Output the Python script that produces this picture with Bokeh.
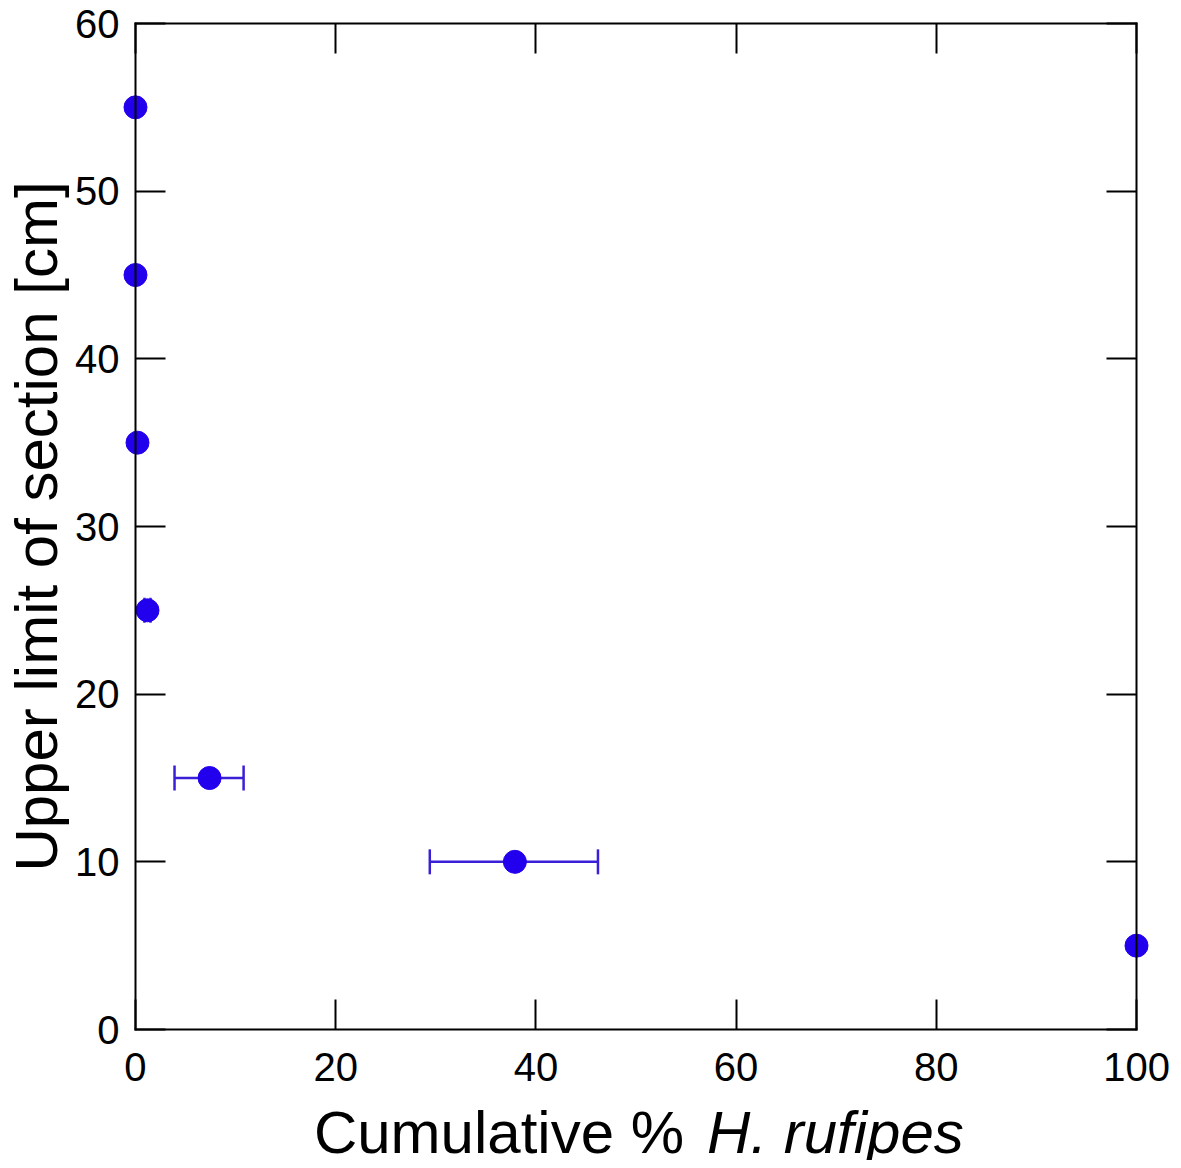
from bokeh.plotting import figure
from bokeh.layouts import column
from bokeh.models import Range1d, LinearAxis, Label, Whisker, ColumnDataSource, TeeHead, FixedTicker
from bokeh.embed import file_html
from bokeh.resources import INLINE

# ---- data ----
depth_cm = [55, 45, 35, 25, 15, 10, 5]
cum_pct = [0.0, 0.0, 0.2, 1.2, 7.4, 37.9, 100.0]
err_low = [0.0, 0.0, 0.2, 0.9, 3.9, 29.4, 100.0]
err_high = [0.0, 0.0, 0.2, 1.5, 10.8, 46.2, 100.0]
x_ticks = [0, 20, 40, 60, 80, 100]
y_ticks = [0, 10, 20, 30, 40, 50, 60]
x_label_a = "Cumulative %"
x_label_b = "H. rufipes"
y_label = "Upper limit of section [cm]"

X0, X1 = 0, 100
Y0, Y1 = 0, 60

# ---- styling ----
FONT = "Liberation Sans"
MARK = "#2200ee"
ERRC = "#3a1fd8"
PAD_PX = 13
BOX_W, BOX_H = 1002, 1006
BOX_LEFT, BOX_TOP = 134, 23
TOTAL_W = 1175
MAIN_H = 1099
LABEL_H = 61
pad_x = PAD_PX * (X1 - X0) / BOX_W
pad_y = PAD_PX * (Y1 - Y0) / BOX_H

b_left = BOX_LEFT - PAD_PX
b_top = BOX_TOP - PAD_PX
b_right = TOTAL_W - (BOX_LEFT + BOX_W + PAD_PX)
b_bottom = MAIN_H - (BOX_TOP + BOX_H + PAD_PX)

xr = Range1d(X0 - pad_x, X1 + pad_x)
yr = Range1d(Y0 - pad_y, Y1 + pad_y)

p = figure(width=TOTAL_W, height=MAIN_H, x_range=xr, y_range=yr, title=None,
           output_backend="svg", toolbar_location=None,
           x_axis_location=None, y_axis_location=None,
           min_border_left=b_left, min_border_right=b_right,
           min_border_top=b_top, min_border_bottom=b_bottom)
p.outline_line_color = None
p.grid.visible = False
p.background_fill_color = "white"
p.border_fill_color = "white"


def label_axis(ticks, standoff, title=None):
    ax = LinearAxis(ticker=FixedTicker(ticks=ticks))
    ax.axis_line_color = None
    ax.major_tick_line_color = None
    ax.minor_tick_line_color = None
    ax.major_tick_in = 0
    ax.major_tick_out = 0
    ax.major_label_text_font = FONT
    ax.major_label_text_font_size = "40px"
    ax.major_label_text_color = "black"
    ax.major_label_standoff = standoff
    if title:
        ax.axis_label = title
        ax.axis_label_text_font = FONT
        ax.axis_label_text_font_size = "60px"
        ax.axis_label_text_font_style = "normal"
        ax.axis_label_text_color = "black"
        ax.axis_label_standoff = 2
    return ax


def frame_axis(fixed, bounds, ticks):
    ax = LinearAxis(fixed_location=fixed, bounds=bounds, ticker=FixedTicker(ticks=ticks))
    ax.axis_line_color = "black"
    ax.axis_line_width = 2
    ax.axis_line_cap = "square"
    ax.major_tick_in = 30
    ax.major_tick_out = 0
    ax.major_tick_line_width = 2
    ax.major_tick_line_color = "black"
    ax.minor_tick_line_color = None
    ax.major_label_text_font_size = "0px"
    ax.major_label_standoff = 0
    return ax


# labelled axes at the (padded) frame edge
p.add_layout(label_axis(x_ticks, 10), "below")
p.add_layout(label_axis(y_ticks, 16 - PAD_PX, y_label), "left")
# box + inward ticks exactly on the data limits
p.add_layout(frame_axis(Y0, (X0, X1), x_ticks), "below")
p.add_layout(frame_axis(Y1, (X0, X1), x_ticks), "above")
p.add_layout(frame_axis(X0, (Y0, Y1), y_ticks), "left")
p.add_layout(frame_axis(X1, (Y0, Y1), y_ticks), "right")

# error bars (only where there is a spread)
idx = [i for i in range(len(depth_cm)) if err_high[i] > err_low[i]]
err_src = ColumnDataSource(dict(
    base=[depth_cm[i] for i in idx],
    lower=[err_low[i] for i in idx],
    upper=[err_high[i] for i in idx],
))
w = Whisker(source=err_src, base="base", lower="lower", upper="upper",
            dimension="width", line_color=ERRC, line_width=2.5, level="underlay",
            upper_head=TeeHead(size=25, line_color=ERRC, line_width=2.5),
            lower_head=TeeHead(size=25, line_color=ERRC, line_width=2.5))
p.add_layout(w)

src = ColumnDataSource(dict(x=cum_pct, y=depth_cm))
p.scatter("x", "y", source=src, size=23, fill_color=MARK, line_color=MARK)

# x title (mixed upright / italic) in a strip below, sharing the x range
p2 = figure(width=TOTAL_W, height=LABEL_H, x_range=xr, y_range=Range1d(0, LABEL_H),
            title=None, output_backend="svg", toolbar_location=None,
            x_axis_location=None, y_axis_location=None,
            min_border_left=b_left, min_border_right=b_right,
            min_border_top=0, min_border_bottom=0)
p2.outline_line_color = None
p2.grid.visible = False
base_y = 28
p2.add_layout(Label(x=54.8, y=base_y, text=x_label_a,
                    text_align="right", text_baseline="alphabetic",
                    text_font=FONT, text_font_size="60px", text_color="black"))
p2.add_layout(Label(x=57.1, y=base_y, text=x_label_b,
                    text_align="left", text_baseline="alphabetic",
                    text_font=FONT, text_font_size="60px", text_font_style="italic",
                    text_color="black"))

layout = column(p, p2, spacing=0)
open("out.html", "w").write(file_html(layout, INLINE))
